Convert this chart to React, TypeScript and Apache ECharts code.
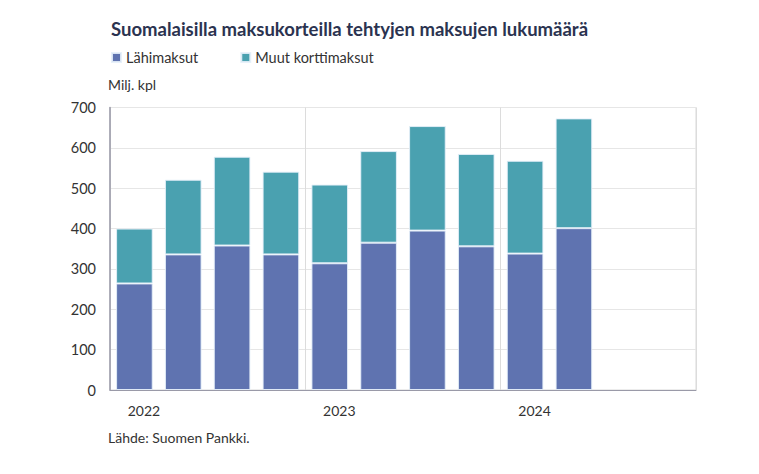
import React, { useEffect, useRef } from "react";
import * as echarts from "echarts";

const categories = [
  "2022Q1", "2022Q2", "2022Q3", "2022Q4",
  "2023Q1", "2023Q2", "2023Q3", "2023Q4",
  "2024Q1", "2024Q2", "2024Q3", "2024Q4",
];
const yearLabels: Record<number, string> = { 0: "2022", 4: "2023", 8: "2024" };
const lahimaksut = [264, 336, 358, 336, 314, 365, 395, 356, 338, 401, null, null];
const muutKorttimaksut = [136, 185, 220, 205, 195, 227, 259, 229, 230, 272, null, null];

const FONT = "Lato";

export default function App() {
  const ref = useRef<HTMLDivElement>(null);
  useEffect(() => {
    document.body.style.margin = "0";
    const chart = echarts.init(ref.current!, undefined, { renderer: "svg" });
    chart.setOption({
      animation: false,
      textStyle: { fontFamily: FONT },
      title: {
        text: "Suomalaisilla maksukorteilla tehtyjen maksujen lukumäärä",
        left: 106,
        top: 14,
        textStyle: { fontFamily: FONT, fontSize: 18.5, fontWeight: "bold", color: "#2b3350" },
      },
      legend: {
        left: 106,
        top: 45,
        icon: "rect",
        itemWidth: 9,
        itemHeight: 9,
        itemGap: 42,
        textStyle: { fontFamily: FONT, fontSize: 14.5, color: "#333" },
        data: ["Lähimaksut", "Muut korttimaksut"],
      },
      graphic: [
        {
          type: "text",
          left: 108,
          top: 77,
          style: { text: "Milj. kpl", fontFamily: FONT, fontSize: 14, fill: "#333" },
        },
        {
          type: "text",
          left: 108,
          top: 430,
          style: { text: "Lähde: Suomen Pankki.", fontFamily: FONT, fontSize: 14, fill: "#333" },
        },
      ],
      grid: {
        left: 110,
        right: 63,
        top: 107.5,
        bottom: 84,
        show: true,
        borderColor: "#d9d9d9",
        borderWidth: 1,
      },
      xAxis: {
        type: "category",
        data: categories,
        boundaryGap: true,
        axisLine: { show: true, lineStyle: { color: "#9a9aa8", width: 1 } },
        axisTick: { show: false },
        splitLine: {
          show: true,
          interval: (i: number) => i % 4 === 0,
          lineStyle: { color: "#dcdcdc", width: 1 },
        },
        axisLabel: {
          interval: 0,
          margin: 13,
          padding: [0, 0, 0, 19],
          fontFamily: FONT,
          fontSize: 14,
          color: "#333",
          formatter: (_v: string, i: number) => yearLabels[i] ?? "",
        },
      },
      yAxis: {
        type: "value",
        min: 0,
        max: 700,
        interval: 100,
        axisLine: { show: true, lineStyle: { color: "#9a9aa8", width: 1.5 } },
        axisTick: { show: false },
        splitLine: { show: true, lineStyle: { color: "#e6e6e6", width: 1 } },
        axisLabel: { margin: 14, fontFamily: FONT, fontSize: 14.5, color: "#333" },
      },
      series: [
        {
          name: "Lähimaksut",
          type: "bar",
          stack: "total",
          barCategoryGap: "25%",
          data: lahimaksut,
          itemStyle: { color: "#5f73b0", borderColor: "rgba(230,240,250,0.9)", borderWidth: 1 },
        },
        {
          name: "Muut korttimaksut",
          type: "bar",
          stack: "total",
          barCategoryGap: "25%",
          data: muutKorttimaksut,
          itemStyle: { color: "#4aa1b0", borderColor: "rgba(230,240,250,0.9)", borderWidth: 1 },
        },
      ],
    });
    return () => chart.dispose();
  }, []);
  return <div ref={ref} style={{ width: 759, height: 474 }} />;
}
